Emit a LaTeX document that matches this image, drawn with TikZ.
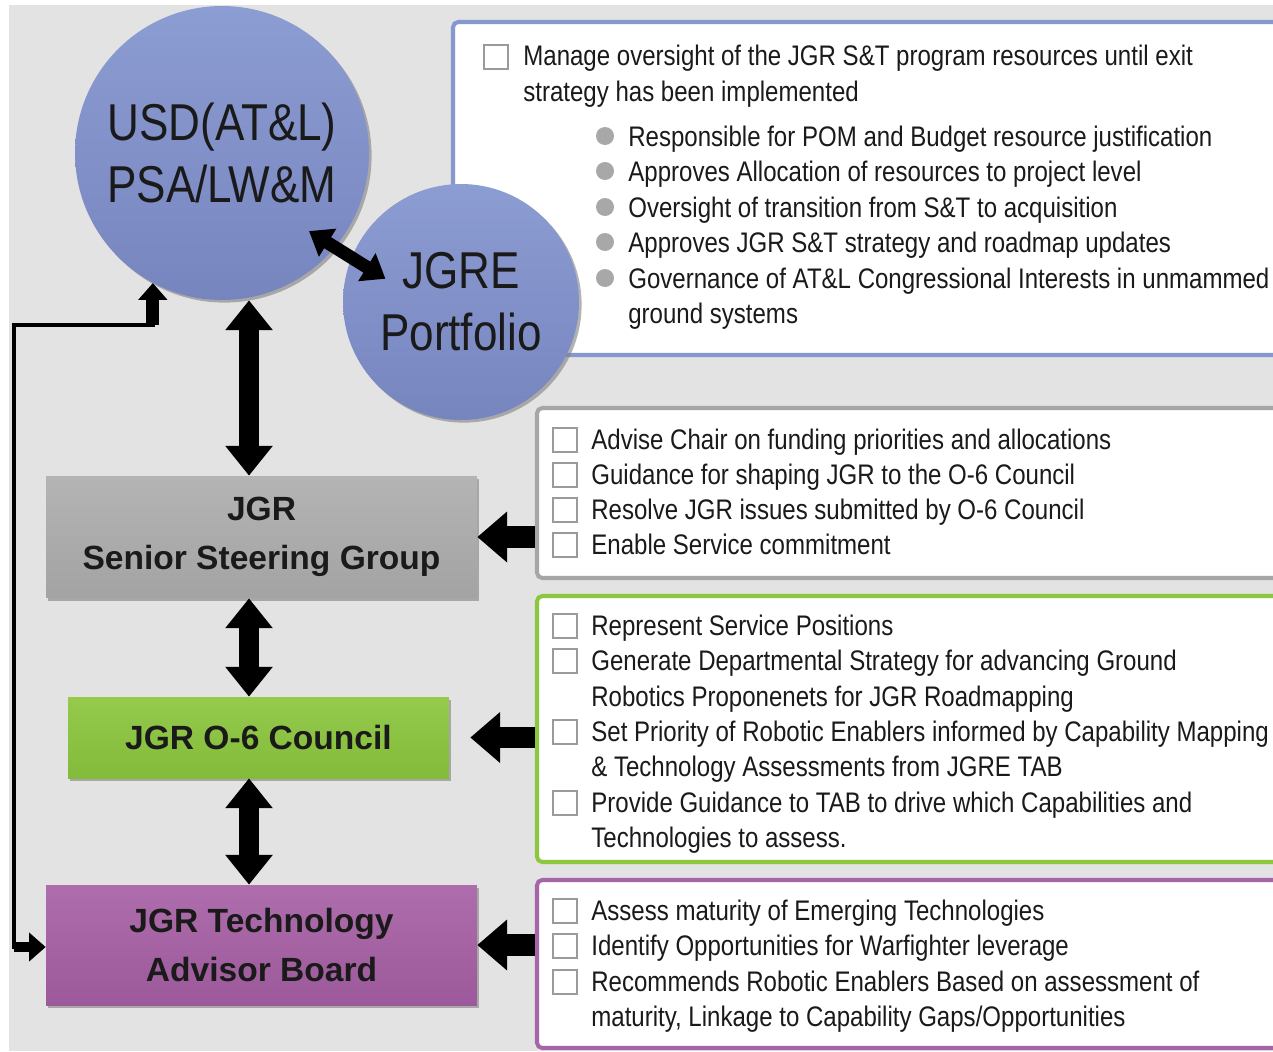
\documentclass[tikz,border=0pt]{standalone}
\usepackage{fontspec}
\usetikzlibrary{arrows.meta,calc,fit,shadows}

\newfontfamily\narrowsans[FakeStretch=0.85]{Liberation Sans}
\newfontfamily\plainsans{Liberation Sans}
\newcommand{\jgrbody}{\narrowsans\fontsize{16.1}{19}\selectfont}
\newcommand{\jgrcirc}{\narrowsans\fontsize{29.5}{35.3}\selectfont}
\newcommand{\jgrbold}{\plainsans\bfseries\fontsize{19.1}{27.8}\selectfont}

\definecolor{bgcol}{HTML}{E3E3E3}
\definecolor{txtcol}{HTML}{1A1A1A}
\definecolor{circtop}{HTML}{8C9DD3}
\definecolor{circbot}{HTML}{7785BE}
\definecolor{ssgtop}{HTML}{B4B4B4}
\definecolor{ssgbot}{HTML}{A3A3A3}
\definecolor{otop}{HTML}{95CA4C}
\definecolor{obot}{HTML}{83BB3A}
\definecolor{tabtop}{HTML}{AE6DAC}
\definecolor{tabbot}{HTML}{9C599B}
\definecolor{ovline}{HTML}{8797CF}
\definecolor{ssgline}{HTML}{A6A6A6}
\definecolor{oline}{HTML}{8DC63F}
\definecolor{tabline}{HTML}{A565A8}
\definecolor{tickgray}{HTML}{9A9A9A}
\definecolor{dotgray}{HTML}{A8A8A8}

\tikzset{
  orgcircle/.style={circle, inner sep=0pt, top color=circtop, bottom color=circbot,
    drop shadow={shadow xshift=1.5pt, shadow yshift=-1.5pt, opacity=0.6},
    font=\jgrcirc, text=txtcol, align=center},
  orgbox/.style={rectangle, inner sep=0pt, font=\jgrbold, text=txtcol, align=center,
    drop shadow={shadow xshift=1.2pt, shadow yshift=-1.8pt, opacity=0.6}},
  dutybox/.style={rectangle, inner sep=0pt, rounded corners=3pt, fill=white, line width=2.3pt},
  itemtext/.style={anchor=base west, inner sep=0pt, font=\jgrbody, text=txtcol},
  tickbox/.style={draw=tickgray, fill=white, line width=1.2pt},
  bigarrow/.style={line width=11.3pt, {Triangle[width=26pt,length=17pt]}-{Triangle[width=26pt,length=17pt]}},
  diagarrow/.style={line width=7.4pt, {Triangle[width=18pt,length=12.5pt]}-{Triangle[width=18pt,length=12.5pt]}},
  inarrow/.style={line width=12pt, -{Triangle[width=28pt,length=17pt]}},
  loopline/.style={line width=2.8pt, line cap=rect},
  loopneck/.style={-{Triangle[width=16pt,length=9.5pt]}}
}

\begin{document}
\begin{tikzpicture}[x=0.02cm, y=-0.02cm]
  \useasboundingbox (0,0) rectangle (1273,1051);
  \clip (0,0) rectangle (1273,1051);
  % backdrop
  \fill[white] (0,0) rectangle (1273,1051);
  \fill[bgcol] (9,5) rectangle (1273,1051);

  % duty boxes on the right
  \node[dutybox, draw=ovline, fit={(453,22) (1300,355)}] (ovbox) {};
  \node[dutybox, draw=ssgline, fit={(537,408) (1300,578)}] (ssgbox) {};
  \node[dutybox, draw=oline, fit={(537,596) (1300,862)}] (obox) {};
  \node[dutybox, draw=tabline, fit={(537,880) (1300,1048)}] (tabbox) {};

  % oversight items
  \draw[tickbox] (484,45) rectangle (508,69);
  \foreach \yy/\tx [count=\i] in {66/{Manage oversight of the JGR S\&T program resources until exit},
      101/{strategy has been implemented}}
    \node[itemtext] (ovl\i) at (523,\yy) {\tx};
  \foreach \yy in {146,181,217,252,288}
    \fill[dotgray] (605,\yy-10) circle (9);
  \foreach \yy/\tx [count=\i] in {146/{Responsible for POM and Budget resource justification},
      181/{Approves Allocation of resources to project level},
      217/{Oversight of transition from S\&T to acquisition},
      252/{Approves JGR S\&T strategy and roadmap updates},
      288/{Governance of AT\&L Congressional Interests in unmammed},
      323/{ground systems}}
    \node[itemtext] (ovb\i) at (628,\yy) {\tx};

  % steering group items
  \foreach \yy in {449,484,519,554}
    \draw[tickbox] (553,\yy-21) rectangle (577,\yy+3);
  \foreach \yy/\tx [count=\i] in {449/{Advise Chair on funding priorities and allocations},
      484/{Guidance for shaping JGR to the O-6 Council},
      519/{Resolve JGR issues submitted by O-6 Council},
      554/{Enable Service commitment}}
    \node[itemtext] (ssgl\i) at (591,\yy) {\tx};

  % council items
  \foreach \yy in {635,670,741,812}
    \draw[tickbox] (553,\yy-21) rectangle (577,\yy+3);
  \foreach \yy/\tx [count=\i] in {635/{Represent Service Positions},
      670/{Generate Departmental Strategy for advancing Ground},
      706/{Robotics Proponenets for JGR Roadmapping},
      741/{Set Priority of Robotic Enablers informed by Capability Mapping},
      776/{\& Technology Assessments from JGRE TAB},
      812/{Provide Guidance to TAB to drive which Capabilities and},
      847/{Technologies to assess.}}
    \node[itemtext] (ol\i) at (591,\yy) {\tx};

  % advisor board items
  \foreach \yy in {920,955,991}
    \draw[tickbox] (553,\yy-21) rectangle (577,\yy+3);
  \foreach \yy/\tx [count=\i] in {920/{Assess maturity of Emerging Technologies},
      955/{Identify Opportunities for Warfighter leverage},
      991/{Recommends Robotic Enablers Based on assessment of},
      1026/{maturity, Linkage to Capability Gaps/Opportunities}}
    \node[itemtext] (tabl\i) at (591,\yy) {\tx};

  % circles
  \node[orgcircle, minimum size=5.88cm] (usd) at (222,153) {USD(AT\&L)\\PSA/LW\&M};
  \node[orgcircle, minimum size=4.72cm] (jgre) at (461,302) {JGRE\\Portfolio};

  % groups
  \node[orgbox, top color=ssgtop, bottom color=ssgbot, minimum width=8.62cm, minimum height=2.44cm] (ssg) at (261.5,537) {JGR\\Senior Steering Group};
  \node[orgbox, top color=otop, bottom color=obot, minimum width=7.62cm, minimum height=1.62cm] (ocouncil) at (258.5,737.5) {JGR O-6 Council};
  \node[orgbox, top color=tabtop, bottom color=tabbot, minimum width=8.62cm, minimum height=2.4cm] (tab) at (261.5,945) {JGR Technology\\Advisor Board};

  % connections
  \coordinate (spine) at (249,0);
  \draw[bigarrow] (usd.south -| spine) -- (ssg.north -| spine);
  \draw[bigarrow] (ssg.south -| spine) -- (ocouncil.north -| spine);
  \draw[bigarrow] (ocouncil.south -| spine) -- (tab.north -| spine);
  \draw[diagarrow] ($(usd)!0.41!(jgre)+(-11,17)$) -- ($(usd)!0.73!(jgre)+(-11,17)$);
  \draw[inarrow] (ssgbox.west |- ssg.east) -- (ssg.east);
  \draw[inarrow] (obox.west |- ocouncil.east) -- ($(ocouncil.east)+(21,0)$);
  \draw[inarrow] (tabbox.west |- tab.east) -- (tab.east);

  % feedback loop
  \coordinate (lowbend) at (14,947);
  \coordinate (topbend) at (14,325);
  \draw[loopline] (lowbend) -- (topbend) -- (topbend -| usd.242);
  \draw[loopneck, line width=5.7pt] (lowbend) -- (lowbend -| tab.west);
  \draw[loopneck, line width=7.4pt] (topbend -| usd.242) -- (usd.242);
\end{tikzpicture}
\end{document}
